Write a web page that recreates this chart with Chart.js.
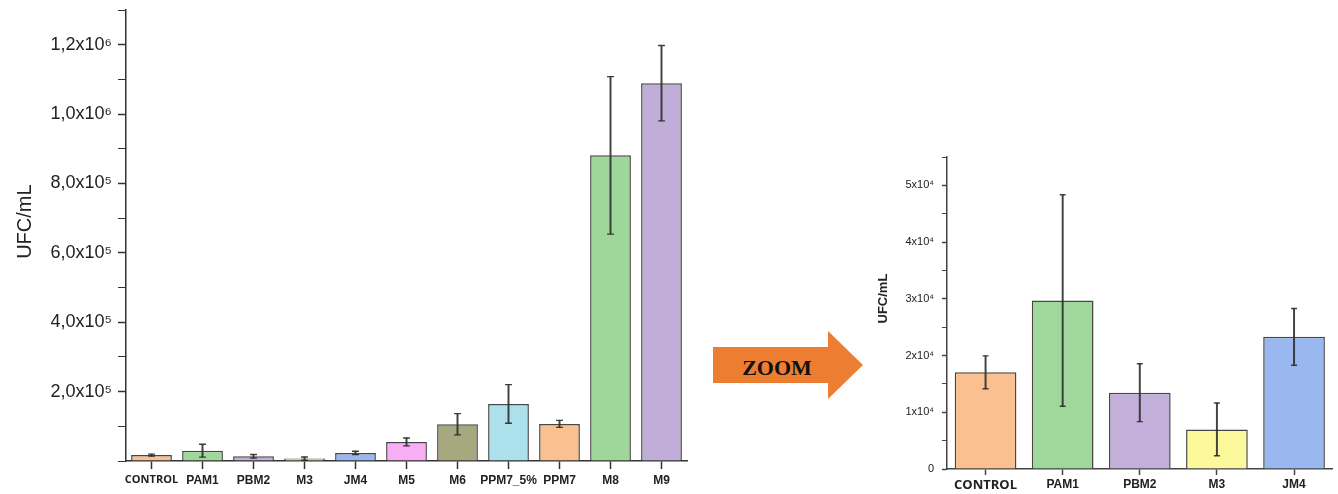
<!DOCTYPE html>
<html><head><meta charset="utf-8">
<script src="https://cdn.jsdelivr.net/npm/chart.js@4.4.1/dist/chart.umd.min.js"></script>
<style>
html,body{margin:0;padding:0;background:#fff;width:1338px;height:494px;overflow:hidden;}
#leftBox{position:absolute;left:0;top:0;width:700px;height:494px;}
#rightBox{position:absolute;left:860px;top:140px;width:478px;height:354px;}
#arrow{position:absolute;left:713px;top:331px;width:150px;height:68px;background:#ED7D31;
clip-path:polygon(0 16px,115px 16px,115px 0,150px 34px,115px 68px,115px 52px,0 52px);}
#arrowText{position:absolute;left:713px;top:355px;width:128px;height:22px;line-height:22px;text-align:center;
font:bold 22px "Liberation Serif","DejaVu Serif",serif;color:#111;}
</style></head>
<body>
<div id="leftBox"><canvas id="left"></canvas></div>
<div id="arrow"></div><div id="arrowText">ZOOM</div>
<div id="rightBox"><canvas id="right"></canvas></div>
<script>
// ---- data ----
const categories = ['CONTROL','PAM1','PBM2','M3','JM4','M5','M6','PPM7_5%','PPM7','M8','M9'];
const means  = [17050, 29700, 13450, 6980, 23300, 55000, 106000, 164500, 107000, 881000, 1089000];
const errors = [2900, 18650, 5100, 4650, 5000, 11500, 30700, 55700, 10000, 227000, 108500];
const barColors = ['#FAC08F','#A0D89B','#C2AFDA','#FBF99B','#99B8EF','#F8AEF5','#A6A87D','#ACE0EA','#FAC08F','#9FD69A','#C1AED8'];
const zoomCount = 5;
const leftTickValues = [200000, 400000, 600000, 800000, 1000000, 1200000];
const leftTickLabels = ['2,0x10⁵','4,0x10⁵','6,0x10⁵','8,0x10⁵','1,0x10⁶','1,2x10⁶'];
const rightTickValues = [0, 10000, 20000, 30000, 40000, 50000];
const rightTickLabels = ['0','1x10⁴','2x10⁴','3x10⁴','4x10⁴','5x10⁴'];

function makeChart(id, n, cfg) {
  const labels = categories.slice(0, n);
  const m = means.slice(0, n);
  const e = errors.slice(0, n);
  const hi = m.map((v, i) => v + e[i]);
  const lo = m.map((v, i) => Math.max(0, v - e[i]));
  const errColor = 'rgba(45,45,45,0.9)';
  const findTick = (v) => cfg.tickValues.findIndex(t => Math.abs(t - v) < 1);
  return new Chart(document.getElementById(id), {
    type: 'bar',
    data: {
      labels,
      datasets: [
        { type: 'bar', data: m, backgroundColor: barColors.slice(0, n), borderColor: '#474747',
          borderWidth: 1.5, barPercentage: 0.8, categoryPercentage: 1, grouped: false, order: 3 },
        { type: 'bar', data: lo.map((v, i) => [v, hi[i]]), backgroundColor: errColor, borderWidth: 0,
          barThickness: cfg.errW, grouped: false, order: 2 },
        { type: 'line', data: hi, showLine: false, pointStyle: 'line', pointRadius: cfg.cap,
          pointBorderColor: errColor, pointBorderWidth: 1.4, order: 1 },
        { type: 'line', data: lo, showLine: false, pointStyle: 'line', pointRadius: cfg.cap,
          pointBorderColor: errColor, pointBorderWidth: 1.4, order: 0 }
      ]
    },
    options: {
      responsive: true, maintainAspectRatio: false, animation: false, events: [],
      layout: { padding: { top: cfg.padTop, right: cfg.padRight, left: 0, bottom: 0 } },
      plugins: { legend: { display: false }, tooltip: { enabled: false } },
      scales: {
        x: {
          offset: true,
          grid: { offset: false, drawOnChartArea: false, tickLength: cfg.xTick, tickColor: cfg.axisColor, tickWidth: 1.5 },
          border: { color: cfg.axisColor, width: 1.5 },
          ticks: { color: '#222', padding: cfg.xPad, autoSkip: false, maxRotation: 0,
            font: (c) => c.index === 0
              ? { family: '"Open Sans"', size: cfg.ctrlSize, weight: 'bold' }
              : { family: '"Liberation Sans", Arial', size: cfg.xSize, weight: 'bold' } },
          afterFit: (s) => { s.height = cfg.xH; }
        },
        y: {
          min: 0, max: cfg.max,
          grid: { drawOnChartArea: false, tickLength: cfg.yTick, tickColor: cfg.axisColor,
            tickWidth: (c) => findTick(c.tick.value) >= 0 ? 1.5 : 1 },
          border: { color: cfg.axisColor, width: 1.5 },
          ticks: { stepSize: cfg.step, autoSkip: false, padding: cfg.yPad, color: '#222',
            font: { family: '"Liberation Sans", Arial', size: cfg.ySize },
            callback: (v) => { const i = findTick(v); return i >= 0 ? cfg.tickLabels[i] : ''; } },
          title: { display: true, text: cfg.title, color: '#222',
            font: { family: '"Liberation Sans", Arial', size: cfg.titleSize, weight: cfg.titleWeight },
            padding: { top: cfg.titlePad, bottom: 0 } },
          afterFit: (s) => { s.width = cfg.yW; s.paddingTop = 0; s.paddingBottom = 0; }
        }
      }
    }
  });
}

makeChart('left', categories.length, {
  padTop: 10, padRight: 13, yW: 126, xH: 33, max: 1300000, step: 100000,
  tickValues: leftTickValues, tickLabels: leftTickLabels,
  xTick: 8, yTick: 8, xPad: 4, yPad: 6, xSize: 12, ctrlSize: 11, ySize: 18,
  title: '     UFC/mL', titleSize: 20, titleWeight: 'normal', titlePad: 13,
  errW: 1.3, cap: 3.5, axisColor: '#333'
});

makeChart('right', zoomCount, {
  padTop: 17, padRight: 4, yW: 87, xH: 25, max: 55000, step: 5000,
  tickValues: rightTickValues, tickLabels: rightTickLabels,
  xTick: 6, yTick: 5, xPad: 2, yPad: 8, xSize: 12, ctrlSize: 13, ySize: 11,
  title: '        UFC/mL', titleSize: 13, titleWeight: 'bold', titlePad: 16,
  errW: 1.3, cap: 3, axisColor: '#444'
});
</script>
</body></html>
